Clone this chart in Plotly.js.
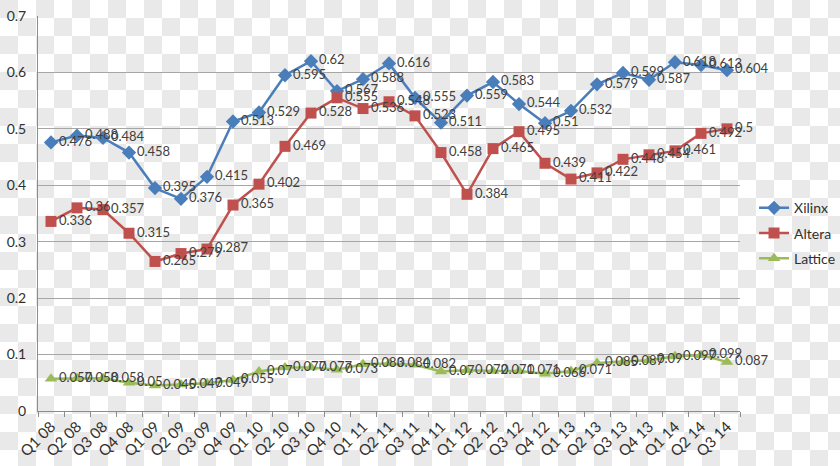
<!DOCTYPE html>
<html>
<head>
<meta charset="utf-8">
<script src="https://cdn.plot.ly/plotly-3.0.1.min.js"></script>
<style>
  html, body { margin: 0; padding: 0; }
  body {
    width: 840px; height: 466px; overflow: hidden;
    background-color: #ffffff;
    background-image: conic-gradient(#ffffff 25%, #e9e9e9 0 50%, #ffffff 0 75%, #e9e9e9 0);
    background-size: 36px 36px;
  }
  #chart { width: 840px; height: 466px; }
</style>
</head>
<body>
<div id="chart"></div>
<script>
const quarters = ["Q1 08","Q2 08","Q3 08","Q4 08","Q1 09","Q2 09","Q3 09","Q4 09",
  "Q1 10","Q2 10","Q3 10","Q4 10","Q1 11","Q2 11","Q3 11","Q4 11",
  "Q1 12","Q2 12","Q3 12","Q4 12","Q1 13","Q2 13","Q3 13","Q4 13",
  "Q1 14","Q2 14","Q3 14"];
const xilinx = [0.476,0.488,0.484,0.458,0.395,0.376,0.415,0.513,
  0.529,0.595,0.62,0.567,0.588,0.616,0.555,0.511,
  0.559,0.583,0.544,0.51,0.532,0.579,0.599,0.587,
  0.618,0.613,0.604];
const altera = [0.336,0.36,0.357,0.315,0.265,0.279,0.287,0.365,
  0.402,0.469,0.528,0.555,0.536,0.548,0.523,0.458,
  0.384,0.465,0.495,0.439,0.411,0.422,0.446,0.454,
  0.461,0.492,0.5];
const lattice = [0.057,0.058,0.058,0.05,0.045,0.047,0.049,0.055,
  0.07,0.077,0.077,0.073,0.083,0.084,0.082,0.07,
  0.072,0.071,0.071,0.066,0.071,0.085,0.087,0.09,
  0.097,0.099,0.087];
const seriesNames = ["Xilinx","Altera","Lattice"];
const colors = ["#4A7EBB","#C0504D","#9BBB59"];
const symbols = ["diamond","square","triangle-up"];
const values = [xilinx, altera, lattice];

const FONT = "Lato, 'Open Sans', sans-serif";
const labelFont = {family: FONT, size: 13, color: "#404040"};

const traces = values.map((v, i) => ({
  type: "scatter",
  mode: "lines+markers+text",
  name: seriesNames[i],
  legendgroup: seriesNames[i],
  x: quarters,
  y: v,
  text: v.map(String),
  textposition: "middle right",
  textfont: labelFont,
  cliponaxis: false,
  line: {color: colors[i], width: 2.5},
  marker: {symbol: symbols[i], color: colors[i], size: 11},
  hoverinfo: "x+y"
}));

const layout = {
  width: 840, height: 466,
  paper_bgcolor: "rgba(0,0,0,0)",
  plot_bgcolor: "rgba(0,0,0,0)",
  margin: {l: 38, r: 100, t: 16, b: 55, autoexpand: false},
  font: {family: FONT, size: 12, color: "#404040"},
  showlegend: true,
  legend: {
    x: 1.02, xanchor: "left", y: 0.45, yanchor: "middle",
    bgcolor: "rgba(0,0,0,0)",
    itemwidth: 30,
    traceorder: "grouped",
    tracegroupgap: 4,
    font: {family: FONT, size: 14, color: "#303030"}
  },
  xaxis: {
    type: "category",
    categoryarray: quarters,
    range: [-0.5, quarters.length - 0.5],
    tickangle: -45,
    tickson: "boundaries",
    ticks: "outside", ticklen: 5, tickcolor: "#8c8c8c",
    showline: true, linecolor: "#8c8c8c", linewidth: 1,
    showgrid: false, zeroline: false,
    tickfont: {family: FONT, size: 15, color: "#303030"}
  },
  yaxis: {
    range: [0, 0.7], dtick: 0.1,
    showgrid: true, gridcolor: "#a6a6a6", gridwidth: 1,
    showline: true, linecolor: "#8c8c8c", linewidth: 1,
    zeroline: false,
    ticks: "", ticklabelstandoff: 8,
    tickfont: {family: FONT, size: 14, color: "#303030"}
  }
};

Plotly.newPlot("chart", traces, layout, {displayModeBar: false, staticPlot: true});
</script>
</body>
</html>
